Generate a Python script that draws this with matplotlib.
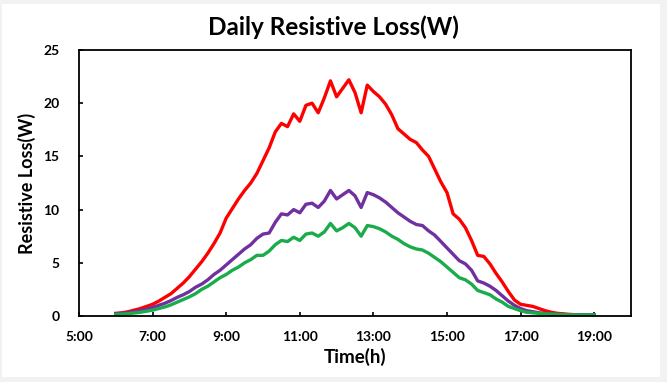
import matplotlib
matplotlib.use("Agg")
import matplotlib.pyplot as plt
from matplotlib.patches import Rectangle

times = ["6:00","6:10","6:20","6:30","6:40","6:50",
         "7:00","7:10","7:20","7:30","7:40","7:50",
         "8:00","8:10","8:20","8:30","8:40","8:50",
         "9:00","9:10","9:20","9:30","9:40","9:50",
         "10:00","10:10","10:20","10:30","10:40","10:50",
         "11:00","11:10","11:20","11:30","11:40","11:50",
         "12:00","12:10","12:20","12:30","12:40","12:50",
         "13:00","13:10","13:20","13:30","13:40","13:50",
         "14:00","14:10","14:20","14:30","14:40","14:50",
         "15:00","15:10","15:20","15:30","15:40","15:50",
         "16:00","16:10","16:20","16:30","16:40","16:50",
         "17:00","17:10","17:20","17:30","17:40","17:50",
         "18:00","18:10","18:20","18:30","18:40","18:50","19:00"]

red = [0.25,0.3,0.4,0.55,0.7,0.9,
       1.1,1.4,1.75,2.1,2.6,3.1,
       3.7,4.4,5.1,5.9,6.8,7.8,
       9.2,10.1,11.0,11.8,12.5,13.4,
       14.6,15.8,17.3,18.1,17.8,19.0,
       18.3,19.8,20.0,19.1,20.5,22.1,
       20.6,21.4,22.2,21.0,19.1,21.7,
       21.1,20.6,19.9,18.9,17.6,17.1,
       16.6,16.3,15.6,15.0,13.8,12.6,
       11.6,9.6,9.1,8.3,7.1,5.7,
       5.6,4.9,4.0,3.2,2.3,1.5,
       1.1,1.0,0.9,0.7,0.5,0.35,
       0.25,0.2,0.15,0.12,0.1,0.1,0.1]

purple = [0.2,0.25,0.3,0.4,0.5,0.65,
          0.8,1.0,1.2,1.45,1.75,2.0,
          2.3,2.7,3.0,3.4,3.9,4.3,
          4.8,5.3,5.8,6.3,6.7,7.3,
          7.7,7.8,8.8,9.6,9.5,10.0,
          9.7,10.5,10.6,10.2,10.8,11.8,
          11.0,11.4,11.8,11.3,10.2,11.6,
          11.4,11.1,10.7,10.2,9.7,9.3,
          8.9,8.6,8.5,8.0,7.6,7.0,
          6.4,5.8,5.2,4.9,4.3,3.3,
          3.1,2.8,2.4,1.9,1.4,1.0,
          0.7,0.5,0.4,0.3,0.25,0.2,
          0.15,0.13,0.12,0.1,0.1,0.1,0.1]

green = [0.15,0.18,0.22,0.28,0.35,0.45,
         0.55,0.7,0.85,1.05,1.3,1.55,
         1.8,2.1,2.5,2.8,3.2,3.6,
         3.9,4.3,4.6,5.0,5.3,5.7,
         5.7,6.1,6.7,7.1,7.0,7.4,
         7.1,7.7,7.8,7.5,7.9,8.7,
         8.0,8.3,8.7,8.3,7.5,8.5,
         8.4,8.2,7.9,7.5,7.2,6.8,
         6.5,6.3,6.2,5.9,5.5,5.1,
         4.6,4.1,3.6,3.4,3.0,2.4,
         2.2,2.0,1.6,1.3,0.9,0.7,
         0.5,0.35,0.3,0.25,0.2,0.18,
         0.15,0.13,0.12,0.1,0.1,0.1,0.1]

xtick_labels = ["5:00","7:00","9:00","11:00","13:00","15:00","17:00","19:00"]
yticks = [0, 5, 10, 15, 20, 25]

def to_hours(s):
    h, m = s.split(":")
    return int(h) + int(m) / 60.0

hours = [to_hours(t) for t in times]
xticks = [to_hours(t) for t in xtick_labels]

plt.rcParams['font.family'] = ['Lato', 'DejaVu Sans']

fig = plt.figure(figsize=(6.67, 3.82), dpi=100)
fig.patch.set_facecolor('#f2f2f2')
fig.patches.append(Rectangle((2/667, 5/382), (660-2)/667, (378-5)/382,
                             transform=fig.transFigure, facecolor='white',
                             edgecolor='none', zorder=-10))

ax = fig.add_axes([79/667, 1-316/382, (631-79)/667, (316-50)/382])
ax.plot(hours, red, color='#ff0000', lw=2.4, solid_joinstyle='round')
ax.plot(hours, purple, color='#7030a0', lw=2.4, solid_joinstyle='round')
ax.plot(hours, green, color='#1aab4b', lw=2.4, solid_joinstyle='round')

ax.set_xlim(5, 20)
ax.set_ylim(0, 25)
ax.set_xticks(xticks)
ax.set_xticklabels(xtick_labels, fontsize=10, fontweight='bold')
ax.set_yticks(yticks)
ax.set_yticklabels([str(v) for v in yticks], fontsize=10, fontweight='bold')
ax.tick_params(direction='in', length=3, width=1.2)
ax.tick_params(axis='x', pad=11)
ax.tick_params(axis='y', pad=14)
for sp in ax.spines.values():
    sp.set_linewidth(1.3)
    sp.set_color('black')

ax.set_xlabel('Time(h)', fontsize=13.5, fontweight='bold', labelpad=3)
ax.set_ylabel('Resistive Loss(W)', fontsize=13, fontweight='bold', labelpad=5)
fig.text(0.5 + 0.0, 1 - 27/382, 'Daily Resistive Loss(W)', ha='center', va='center',
         fontsize=17.5, fontweight='bold')

fig.savefig('out.png', dpi=100, facecolor=fig.get_facecolor())
